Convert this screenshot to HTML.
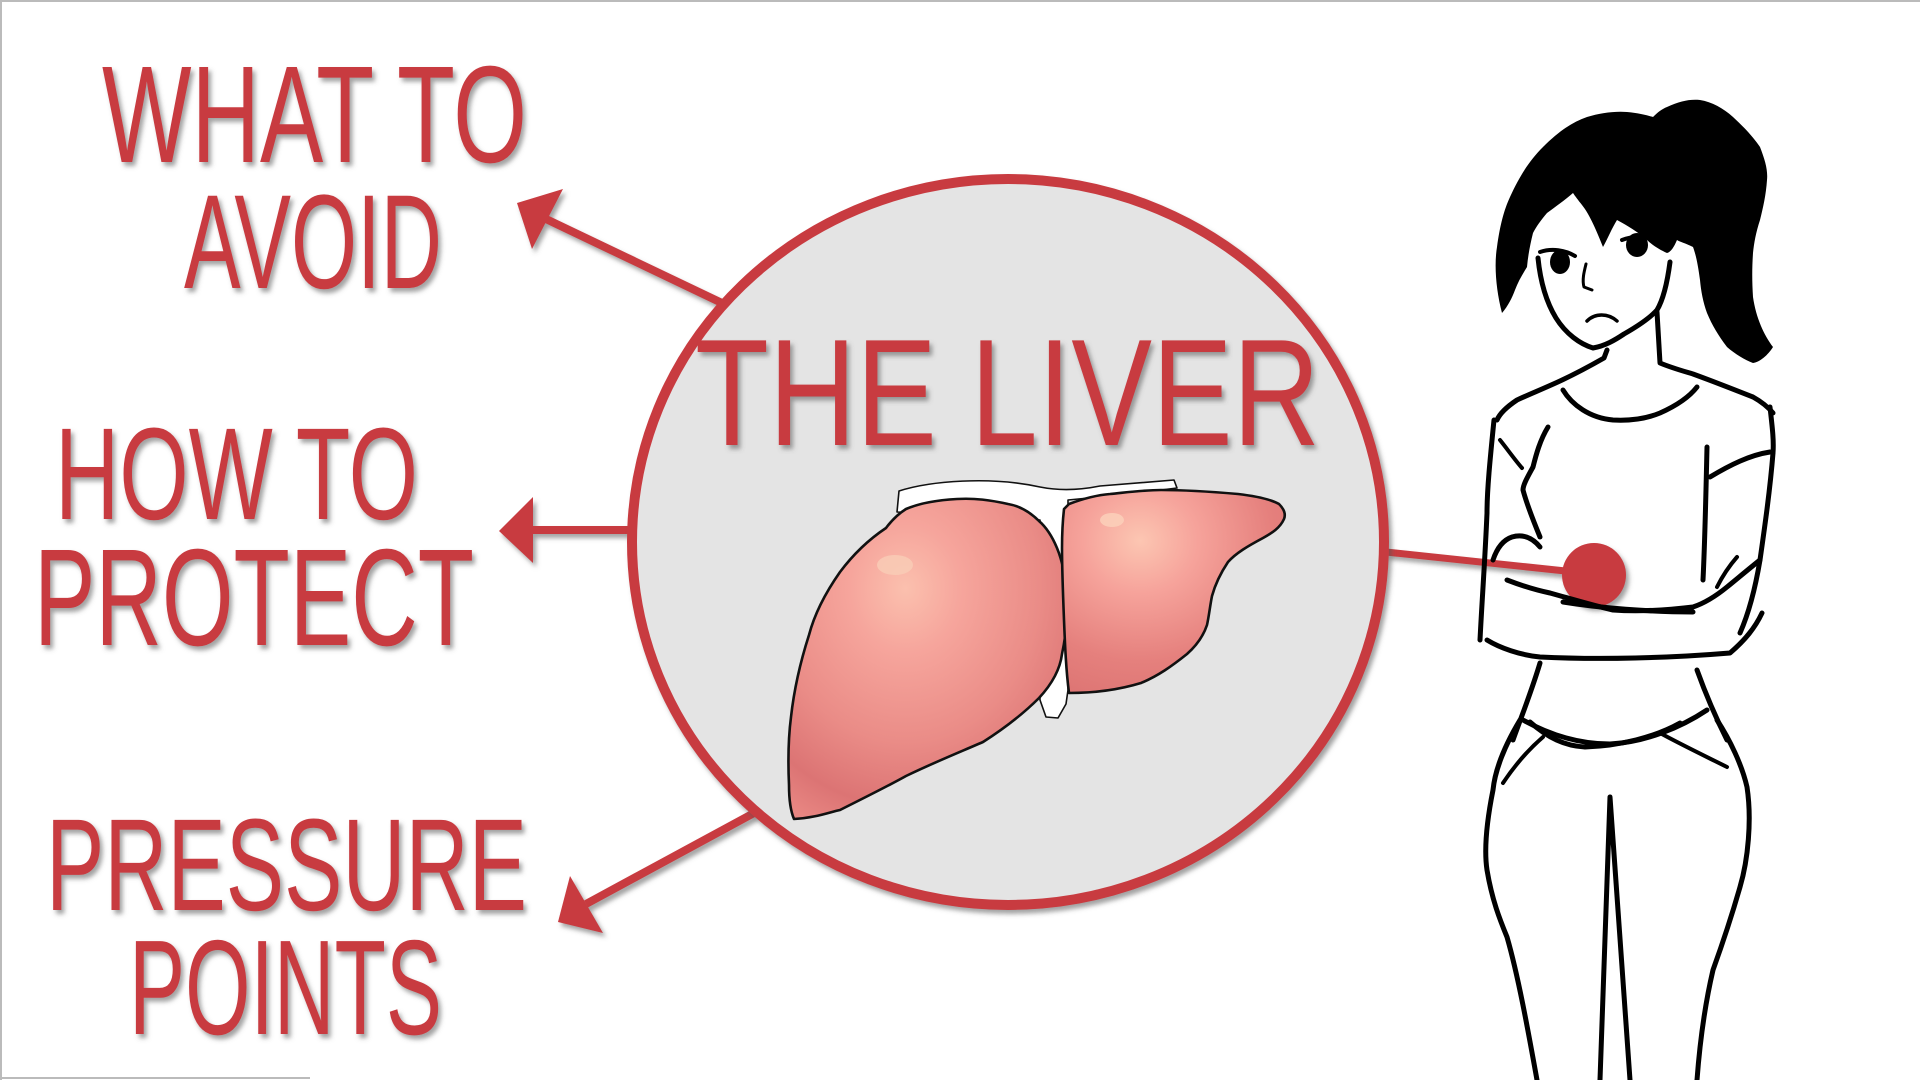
<!DOCTYPE html>
<html><head><meta charset="utf-8"><style>
html,body{margin:0;padding:0;background:#fff;}
svg{display:block;}
</style></head><body>
<svg width="1920" height="1080" viewBox="0 0 1920 1080" xmlns="http://www.w3.org/2000/svg">
<defs>
<filter id="sh" x="-20%" y="-20%" width="140%" height="140%">
<feDropShadow dx="3" dy="4" stdDeviation="2.5" flood-color="#555" flood-opacity="0.55"/>
</filter>
<radialGradient id="lg1" cx="0.42" cy="0.28" r="0.8">
<stop offset="0" stop-color="#fbc0ae"/>
<stop offset="0.25" stop-color="#f6a59c"/>
<stop offset="0.6" stop-color="#ea8c87"/>
<stop offset="0.85" stop-color="#dc7474"/>
<stop offset="1" stop-color="#e88682"/>
</radialGradient>
<radialGradient id="lg2" cx="0.35" cy="0.25" r="0.85">
<stop offset="0" stop-color="#fcc6b2"/>
<stop offset="0.3" stop-color="#f6a39b"/>
<stop offset="0.7" stop-color="#e5807d"/>
<stop offset="1" stop-color="#dc7372"/>
</radialGradient>
</defs>

<rect x="0" y="0" width="1920" height="1080" fill="#fff"/>
<line x1="0" y1="1" x2="1920" y2="1" stroke="#bbb" stroke-width="2"/>
<line x1="1" y1="0" x2="1" y2="1080" stroke="#bbb" stroke-width="2"/>
<line x1="0" y1="1078" x2="310" y2="1078" stroke="#bbb" stroke-width="2"/>

<!-- arrows -->
<g filter="url(#sh)" fill="#c83b41" stroke="#c83b41">
<line x1="546" y1="219" x2="724" y2="304" stroke-width="8"/>
<polygon points="517,203 563,189 532,249" stroke="none"/>
<line x1="531" y1="530" x2="632" y2="530" stroke-width="8"/>
<polygon points="499,531 533,497 533,563" stroke="none"/>
<line x1="586" y1="904" x2="754" y2="813" stroke-width="8"/>
<polygon points="558,922 570,876 603,933" stroke="none"/>
<line x1="1386" y1="552" x2="1575" y2="572" stroke-width="7"/>
<circle cx="1594" cy="575" r="32" stroke="none"/>
</g>

<!-- circle -->
<ellipse cx="1008" cy="542" rx="376" ry="363" fill="#e4e4e4" stroke="#c83b41" stroke-width="10" filter="url(#sh)"/>

<!-- labels -->
<g font-family="'Liberation Sans', sans-serif" fill="#c83b41" filter="url(#sh)" lengthAdjust="spacingAndGlyphs">
<text x="102" y="162" font-size="138" textLength="425" lengthAdjust="spacingAndGlyphs">WHAT TO</text>
<text x="184" y="288" font-size="134" textLength="258" lengthAdjust="spacingAndGlyphs">AVOID</text>
<text x="55" y="519" font-size="131" textLength="363" lengthAdjust="spacingAndGlyphs">HOW TO</text>
<text x="34" y="645" font-size="138" textLength="440" lengthAdjust="spacingAndGlyphs">PROTECT</text>
<text x="46" y="910" font-size="131" textLength="481" lengthAdjust="spacingAndGlyphs">PRESSURE</text>
<text x="129" y="1034" font-size="135" textLength="313" lengthAdjust="spacingAndGlyphs">POINTS</text>
<text x="695" y="445" font-size="152" textLength="625" lengthAdjust="spacingAndGlyphs">THE LIVER</text>
</g>

<!-- liver -->
<g stroke="#111" stroke-linejoin="round" stroke-linecap="round">
<path d="M897,512 L899,491 C930,481 990,476 1040,487 C1060,491 1080,490 1100,486 L1174,480 L1177,488 L1130,494 L1068,500 L1068,690 L1066,704 L1058,718 L1046,717 L1040,700 L1040,520 Z" fill="#fff" stroke-width="1.6"/>
<path d="M794,819 C815,818 830,812 840,810 C870,795 890,785 906,776 C935,762 960,752 983,742 C1005,728 1025,712 1039,698 C1052,684 1060,670 1062,654 C1066,635 1068,615 1067,596 C1066,578 1062,560 1057,548 C1052,536 1046,527 1039,521 C1030,512 1020,506 1008,504 C990,500 975,498 957,499 C938,500 920,503 906,509 C898,514 892,520 886,528 C868,540 852,556 840,572 C826,592 815,612 809,635 C800,663 794,690 791,717 C788,740 788,763 789,785 C789,800 791,812 794,819 Z" fill="url(#lg1)" stroke-width="2.6"/>
<path d="M1069,504 C1085,498 1097,495 1110,494 C1130,492 1145,490 1161,490 C1190,490 1215,492 1238,494 C1255,496 1270,499 1279,504 C1284,509 1286,514 1284,519 C1280,528 1272,533 1263,538 C1248,546 1236,553 1228,562 C1220,574 1215,585 1212,596 C1210,606 1209,616 1207,625 C1203,637 1196,646 1187,654 C1172,666 1158,676 1141,683 C1118,690 1092,693 1069,693 C1066,670 1065,645 1064,620 C1063,595 1062,570 1062,548 C1062,530 1063,518 1064,509 Z" fill="url(#lg2)" stroke-width="2.6"/>
</g>
<ellipse cx="895" cy="565" rx="18" ry="10" fill="#f9cdb6" opacity="0.8"/>
<ellipse cx="1112" cy="520" rx="12" ry="7" fill="#fbd2bc" opacity="0.8"/>

<!-- woman -->
<g fill="#000" stroke="none">
<path d="M1502,313 C1496,290 1494,265 1497,247 C1500,225 1504,210 1510,197 C1520,175 1530,160 1543,147 C1558,132 1572,122 1587,117 C1600,113 1615,111 1627,112 C1638,113 1646,115 1653,117 C1658,112 1662,109 1667,107 C1680,101 1690,99 1700,100 C1712,102 1723,108 1733,117 C1745,128 1754,138 1760,147 C1765,160 1768,170 1767,180 C1766,195 1763,208 1760,220 C1756,232 1754,243 1753,253 C1752,268 1752,282 1753,297 C1756,318 1764,335 1773,347 C1768,355 1760,362 1753,363 C1745,360 1735,354 1727,347 C1718,335 1712,325 1707,313 C1703,302 1701,291 1700,280 C1698,265 1696,255 1693,247 C1685,243 1680,242 1677,240 C1674,247 1671,252 1667,253 C1660,250 1652,245 1647,240 C1638,232 1628,226 1617,220 C1612,228 1608,238 1603,247 C1597,232 1590,215 1582,205 C1578,200 1575,196 1573,193 C1565,200 1555,207 1547,213 C1541,220 1536,227 1533,233 C1530,245 1528,256 1527,267 C1522,275 1518,282 1515,290 C1512,298 1508,306 1502,313 Z"/>
<ellipse cx="1560" cy="262" rx="10" ry="12"/>
<ellipse cx="1637" cy="245" rx="11" ry="12"/>
</g>
<g fill="none" stroke="#000" stroke-width="5" stroke-linecap="round" stroke-linejoin="round">
<!-- face -->
<path d="M1538,258 C1540,278 1545,300 1556,318 C1566,334 1580,344 1593,348 C1605,346 1615,340 1624,334 C1638,326 1650,318 1657,310 C1663,300 1667,285 1670,262"/>
<path d="M1540,252 C1552,248 1565,250 1575,256" stroke-width="4"/>
<path d="M1622,240 C1632,236 1645,236 1655,240" stroke-width="4"/>
<path d="M1586,264 C1584,272 1582,280 1584,287 L1592,290" stroke-width="3"/>
<path d="M1587,321 C1595,313 1608,313 1617,321" stroke-width="3.5"/>
<!-- neck & shoulders -->
<path d="M1607,350 L1604,358 C1590,366 1575,374 1560,381 C1545,388 1530,394 1517,400 C1508,406 1500,413 1497,420"/>
<path d="M1657,312 C1658,330 1659,348 1660,363 C1672,368 1683,371 1693,374 C1715,382 1735,390 1753,397 C1762,402 1768,407 1773,413"/>
<!-- collar -->
<path d="M1563,390 C1572,405 1590,418 1613,420 C1632,421 1648,418 1660,413 C1678,405 1690,396 1697,387"/>
<!-- left arm / sleeve -->
<path d="M1494,420 C1490,460 1487,490 1487,513 C1485,560 1482,600 1480,640"/>
<path d="M1500,440 C1508,450 1515,460 1522,468" stroke-width="4"/>
<path d="M1548,427 C1540,440 1536,455 1533,467 C1527,478 1523,485 1523,490 C1527,505 1533,520 1540,537"/>
<path d="M1493,560 C1497,548 1503,540 1512,537 C1522,534 1532,537 1540,547"/>
<!-- right sleeve / arm -->
<path d="M1707,447 C1706,490 1705,540 1703,580"/>
<path d="M1710,477 C1730,465 1750,455 1770,452"/>
<path d="M1770,407 C1772,425 1774,440 1773,453 C1770,490 1765,525 1760,560 C1755,590 1748,615 1740,633"/>
<!-- crossed forearms -->
<path d="M1507,580 C1520,585 1535,590 1550,593 C1575,600 1595,606 1613,610 C1640,612 1668,610 1693,607 C1705,603 1716,596 1727,587 C1738,578 1750,568 1760,560"/>
<path d="M1717,587 C1723,575 1730,565 1737,557" stroke-width="4"/>
<path d="M1563,602 C1600,608 1650,612 1693,612"/>
<path d="M1487,640 C1500,648 1520,655 1540,657 C1600,660 1670,658 1730,653 C1745,640 1755,628 1762,613"/>
<!-- waist & shirt hem -->
<path d="M1540,663 C1532,690 1522,715 1513,740"/>
<path d="M1697,670 C1706,695 1716,718 1727,740"/>
<path d="M1523,720 C1550,735 1580,744 1610,744 C1645,742 1680,728 1707,710"/>
<!-- pants -->
<path d="M1530,722 C1548,738 1565,746 1585,747 C1620,746 1655,737 1680,723"/>
<path d="M1520,720 C1505,745 1495,770 1493,790 C1487,820 1484,850 1487,870 C1492,900 1500,920 1507,937 C1518,975 1528,1030 1537,1080"/>
<path d="M1717,720 C1730,740 1742,765 1747,787 C1752,820 1748,860 1740,887 C1732,915 1722,945 1713,970 C1706,1000 1700,1040 1697,1080"/>
<path d="M1600,1080 L1610,797 L1630,1080"/>
<path d="M1503,783 C1515,765 1528,750 1543,737" stroke-width="4"/>
<path d="M1660,733 C1682,745 1705,756 1727,767" stroke-width="4"/>
</g>
</svg>
</body></html>
